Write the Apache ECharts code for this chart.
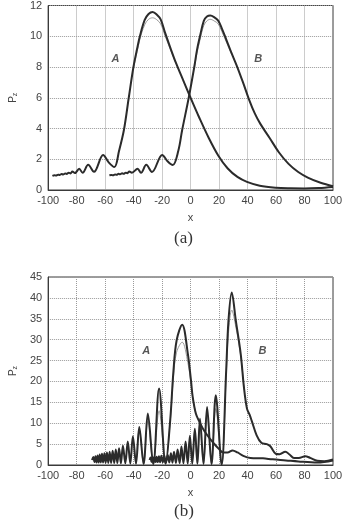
<!DOCTYPE html>
<html><head><meta charset="utf-8">
<script src="https://cdn.jsdelivr.net/npm/echarts@6/dist/echarts.min.js"></script>
<style>html,body{margin:0;padding:0;background:#fff}#c{width:346px;height:522px}</style>
</head><body><div id="c"></div>
<script>
// ---- tick labels ----
const xTicks = [-100, -80, -60, -40, -20, 0, 20, 40, 60, 80, 100];
const yTicksA = [0, 2, 4, 6, 8, 10, 12];
const yTicksB = [0, 5, 10, 15, 20, 25, 30, 35, 40, 45];

// ---- panel (a) ----
const aCurveA = [[-97,0.92],[-95.5,0.96],[-94.5,0.94],[-93,1.0],[-92,0.98],[-90.5,1.04],[-89.5,1.01],[-88,1.08],[-87,1.04],[-85.5,1.13],[-84.3,1.08],[-83,1.2],[-81.2,1.1],[-78.2,1.38],[-75.8,1.12],[-71.9,1.64],[-67.8,1.18],[-61.4,2.28],[-57.5,1.8],[-53.5,1.49],[-50.2,2.55],[-46.8,3.9],[-43.4,6.0],[-40.1,8.0],[-37.5,9.2],[-35.6,10.0],[-32.2,11.06],[-29.5,11.45],[-26.6,11.58],[-23.8,11.42],[-21,11.1],[-17.8,10.2],[-14,9.2],[-10.4,8.3],[-5,7.1],[0,6.0],[5.9,4.75],[12.7,3.4],[19.4,2.25],[26.1,1.4],[32.9,0.85],[39.6,0.53],[48.6,0.28],[59.8,0.15],[70,0.11],[80,0.1],[90,0.13],[100,0.2]];
const aCurveAgray = [[-40.1,7.9],[-37.5,9.0],[-35.6,9.8],[-32.2,10.75],[-29.5,11.1],[-26.6,11.2],[-23.8,11.08],[-21,10.8],[-17.8,10.0],[-14,9.1],[-10.4,8.25]];
const aCurveB = [[-57,0.96],[-55.5,0.98],[-54.5,0.96],[-53,1.01],[-52,0.99],[-50.5,1.05],[-49.5,1.02],[-48,1.09],[-47,1.05],[-45.5,1.13],[-44.5,1.09],[-43,1.2],[-41.2,1.12],[-37.2,1.38],[-34.8,1.12],[-31.1,1.64],[-27.1,1.17],[-19.9,2.28],[-16,1.85],[-12.5,1.62],[-8.6,2.55],[-5.9,3.9],[-1.4,5.95],[2.6,8.0],[4.5,9.1],[6.6,10.0],[9.3,11.0],[11.5,11.28],[13.8,11.35],[16.5,11.25],[19.4,11.02],[22,10.5],[25,9.8],[29,8.85],[33,7.95],[37,6.95],[41,5.9],[45,5.0],[49,4.3],[55.4,3.4],[62.1,2.44],[68.8,1.7],[75.6,1.17],[82.3,0.81],[91.3,0.47],[100,0.25]];
const aCurveBgray = [[2.6,7.9],[4.5,8.9],[6.6,9.75],[9.3,10.7],[11.5,11.0],[13.8,11.1],[16.5,11.0],[19.4,10.8],[22,10.3],[25,9.65],[29,8.8]];
const aLabels = [[-52.8, 8.5, 'A'], [47.5, 8.5, 'B']];

// ---- panel (b) ----
const bCurveA = [[-69.2,1.2],[-68.3,1.9],[-67.5,0.7],[-66.8,2.1],[-66.0,0.6],[-65.3,2.3],[-64.5,0.6],[-63.8,2.5],[-63.0,0.6],[-62.2,2.7],[-61.4,0.6],[-60.5,2.8],[-59.6,0.55],[-58.7,3.0],[-57.8,0.5],[-56.8,3.2],[-55.8,0.5],[-54.7,3.4],[-53.6,0.45],[-52.5,3.7],[-51.4,0.45],[-50.2,4.0],[-48.9,0.4],[-47.5,4.6],[-45.8,0.4],[-44.1,5.6],[-42.3,0.35],[-40.5,6.9],[-38.3,0.3],[-36.0,9.1],[-33.0,0.25],[-30.0,12.3],[-26.2,0.2],[-22.1,18.3],[-17.5,0.3],[-14.3,10.7],[-12.0,22.6],[-9.8,29.8],[-5.9,33.6],[-1.9,26.6],[0.3,20.2],[1.5,16.3],[3.7,12.3],[6,10.5],[8.5,8.8],[12,7.0],[16,5.3],[20,3.8],[23,3.0],[26,3.0],[29.5,3.5],[33,3.0],[37,2.2],[42,1.7],[50.8,1.6],[57.6,1.35],[67,1.1],[75.6,0.85],[89,0.6],[100,1.1]];
const bCurveAgray = [[-38.3,0.3],[-36.0,8.5],[-33.0,0.25],[-30.0,10.5],[-26.2,0.2],[-22.1,13.0],[-17.5,0.3],[-14.3,10.2],[-12.0,21.0],[-9.8,27.0],[-5.9,29.4],[-1.9,24.5],[0.3,19.5],[1.5,16.0],[3.7,12.3]];
const bCurveB = [[-28.8,1.2],[-28.1,1.8],[-27.4,0.7],[-26.7,1.9],[-26.0,0.7],[-25.3,2.0],[-24.5,0.7],[-23.8,2.0],[-23.0,0.7],[-22.2,2.1],[-21.4,0.65],[-20.5,2.2],[-19.5,0.65],[-18.5,2.3],[-17.3,0.6],[-16.0,2.4],[-14.9,0.6],[-13.8,2.8],[-12.7,0.55],[-11.6,3.2],[-10.3,0.5],[-9.1,3.7],[-7.7,0.45],[-6.4,4.4],[-5.0,0.4],[-3.5,5.6],[-2.0,0.35],[-0.5,7.0],[1.2,0.3],[3.0,8.7],[4.8,0.3],[6.6,11.1],[9.1,0.25],[11.6,13.9],[14.7,0.2],[17.7,16.7],[21.8,0.1],[25.0,22.6],[26.6,34.5],[28.9,41.3],[31.8,34.5],[35.2,26.6],[37.5,18.5],[39.6,13.5],[41.5,12.0],[43,10.5],[46.4,7.1],[49.7,5.3],[53.5,5.0],[56,4.5],[59.8,2.7],[62.5,2.6],[66.5,3.2],[69.5,2.5],[72.6,1.7],[76,1.7],[80.5,2.1],[84,1.7],[89,1.0],[94,0.9],[100,1.3]];
const bCurveBgray = [[1.2,0.3],[3.0,8.3],[4.8,0.3],[6.6,10.0],[9.1,0.25],[11.6,12.0],[14.7,0.2],[17.7,13.5],[21.8,0.1],[25.0,21.0],[26.6,31.5],[28.9,37.1],[31.8,33.0],[35.2,26.0],[37.5,18.5]];
const bLabels = [[-31.1, 27.2, 'A'], [50.4, 27.4, 'B']];

const FONT = 'Liberation Sans';
const INK = '#2b2b2b';
const TXT = '#444';

function grid(top) {
  return {left: 36, right: 13, top: top, height: 188, show: true, borderColor: '#3a3a3a', borderWidth: 1};
}
function xAxis(gi) {
  return {
    type: 'value', gridIndex: gi, min: xTicks[0], max: xTicks[xTicks.length - 1], interval: xTicks[1] - xTicks[0],
    name: 'x', nameLocation: 'middle', nameGap: 22,
    nameTextStyle: {fontFamily: FONT, fontSize: 11, color: TXT},
    axisLine: {show: true, onZero: false, lineStyle: {color: '#3a3a3a', width: 1}},
    axisTick: {show: false},
    axisLabel: {fontFamily: FONT, fontSize: 11, color: TXT, margin: 5},
    splitLine: {show: true, lineStyle: {type: 'dotted', color: '#9a9a9a', width: 1}}
  };
}
function yAxis(gi, ticks) {
  return {
    type: 'value', gridIndex: gi, min: ticks[0], max: ticks[ticks.length - 1], interval: ticks[1] - ticks[0],
    name: '{p|P}{s|z}', nameLocation: 'middle', nameGap: 26, nameRotate: 90,
    nameTextStyle: {fontFamily: FONT, color: TXT, rich: {p: {fontSize: 10, fontFamily: FONT, color: TXT}, s: {fontSize: 7, fontFamily: FONT, color: TXT, verticalAlign: 'bottom', padding: [5, 0, 0, 0]}}},
    axisLine: {show: true, onZero: false, lineStyle: {color: '#3a3a3a', width: 1}},
    axisTick: {show: false},
    axisLabel: {fontFamily: FONT, fontSize: 11, color: TXT, margin: 6},
    splitLine: {show: true, lineStyle: {type: 'dotted', color: '#9a9a9a', width: 1}}
  };
}
function line(data, gi, dark) {
  return {
    type: 'line', xAxisIndex: gi, yAxisIndex: gi, data: data, showSymbol: false, symbol: 'none',
    smooth: 0.35, silent: true, animation: false,
    lineStyle: dark ? {color: INK, width: 2} : {color: '#9a9a9a', width: 1},
    z: dark ? 3 : 2
  };
}
function labels(list, gi) {
  return {
    type: 'scatter', xAxisIndex: gi, yAxisIndex: gi, symbolSize: 0, silent: true, animation: false,
    data: list.map(d => ({value: [d[0], d[1]], label: {formatter: d[2]}})),
    label: {show: true, position: 'inside', fontFamily: FONT, fontSize: 11, fontWeight: 'bold', fontStyle: 'italic', color: INK},
    z: 4
  };
}

const chart = echarts.init(document.getElementById('c'), null, {renderer: 'canvas'});
chart.setOption({
  animation: false,
  backgroundColor: '#fff',
  title: [
    {text: '(a)', left: 174, top: 230, padding: 0, textStyle: {fontFamily: 'Liberation Serif', fontSize: 17, fontWeight: 'normal', color: '#333'}},
    {text: '(b)', left: 174, top: 503, padding: 0, textStyle: {fontFamily: 'Liberation Serif', fontSize: 17, fontWeight: 'normal', color: '#333'}}
  ],
  grid: [grid(2), grid(277)],
  xAxis: [xAxis(0), xAxis(1)],
  yAxis: [yAxis(0, yTicksA), yAxis(1, yTicksB)],
  series: [
    line(aCurveAgray, 0, false), line(aCurveBgray, 0, false),
    line(aCurveA, 0, true), line(aCurveB, 0, true),
    labels(aLabels, 0),
    line(bCurveAgray, 1, false), line(bCurveBgray, 1, false),
    line(bCurveA, 1, true), line(bCurveB, 1, true),
    labels(bLabels, 1)
  ]
});
</script></body></html>
